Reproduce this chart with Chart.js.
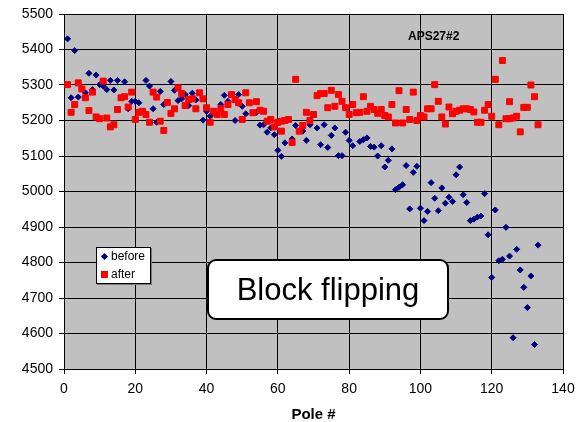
<!DOCTYPE html>
<html>
<head>
<meta charset="utf-8">
<script src="https://cdn.jsdelivr.net/npm/chart.js@4/dist/chart.umd.min.js"></script>
<style>
  body { margin: 0; background: #fff; }
  #wrap { position: relative; width: 576px; height: 422px; font-family: "Liberation Sans", Arial, sans-serif; }
  #chart { position: absolute; left: 0; top: 0; }
  .note { position: absolute; color: #000; white-space: nowrap; }
  #legend { left: 96px; top: 247px; width: 53px; height: 35px; background: #fff; border: 1px solid #000; box-shadow: 1px 1px 0 #7a7a7a; font-size: 12px; }
  #legend .row { position: absolute; left: 14px; line-height: 14px; }
  #legend .mark { position: absolute; }
  #flip { left: 207px; top: 259px; width: 238px; height: 57px; background: #fff; border: 2px solid #000; border-radius: 9px; font-size: 31px; line-height: 57px; text-align: center; }
  #tag { left: 408px; top: 29px; font-size: 12px; font-weight: bold; }
</style>
</head>
<body>
<div id="wrap">
  <canvas id="chart" width="576" height="422"></canvas>
  <div class="note" id="tag">APS27#2</div>
  <div class="note" id="legend">
    <div class="mark" style="left:5px;top:6px;width:5px;height:5px;background:#000080;transform:rotate(45deg);"></div>
    <div class="row" style="top:1px;">before</div>
    <div class="mark" style="left:4px;top:23px;width:7px;height:7px;background:#ff0000;"></div>
    <div class="row" style="top:19px;">after</div>
  </div>
  <div class="note" id="flip">Block flipping</div>
</div>
<script>
// pole numbers and values
const beforePole = [1, 2, 3, 4, 6, 7, 8, 9, 10, 11, 12, 13, 14, 15, 17, 18, 19, 20, 21, 23,
  24, 25, 26, 27, 28, 30, 31, 32, 33, 34, 35, 36, 37, 39, 40, 41, 42, 44, 45, 46,
  48, 49, 50, 51, 54, 55, 56, 57, 58, 59, 60, 61, 62, 64, 65, 67, 68, 69, 71, 72,
  73, 74, 75, 76, 77, 78, 79, 80, 81, 82, 83, 84, 85, 86, 87, 88, 89, 90, 91, 92,
  93, 94, 95, 96, 97, 98, 99, 100, 101, 102, 103, 104, 105, 106, 107, 108, 109, 110, 111, 112,
  113, 114, 115, 116, 117, 118, 119, 120, 121, 122, 123, 124, 125, 126, 127, 128, 129, 130, 131, 132, 133];
const beforeValue = [5430, 5264, 5397, 5266, 5278, 5333, 5287, 5328, 5301, 5297, 5287, 5313, 5286, 5313, 5309, 5233, 5254, 5254, 5250, 5313,
  5297, 5233, 5195, 5282, 5245, 5310, 5285, 5256, 5261, 5273, 5242, 5277, 5258, 5201, 5226, 5212, 5223, 5245, 5271, 5254,
  5200, 5273, 5240, 5219, 5223, 5187, 5188, 5167, 5179, 5160, 5116, 5099, 5137, 5148, 5186, 5170, 5144, 5188, 5179, 5132,
  5188, 5124, 5158, 5179, 5101, 5101, 5167, 5144, 5129, 5221, 5141, 5146, 5151, 5127, 5125, 5100, 5129, 5069, 5088, 5120,
  5005, 5012, 5019, 5073, 4951, 5054, 5071, 4953, 4918, 4944, 5025, 4981, 4946, 5010, 4967, 4984, 4972, 5047, 5069, 4991,
  4969, 4918, 4922, 4928, 4931, 4994, 4878, 4758, 4948, 4805, 4809, 4899, 4818, 4588, 4837, 4779, 4730, 4673, 4762, 4569, 4849];

const afterPole = [1, 2, 3, 4, 5, 6, 7, 8, 9, 10, 11, 12, 13, 14, 15, 16, 17, 18, 19, 20,
  21, 22, 23, 24, 25, 26, 27, 28, 29, 30, 31, 32, 33, 34, 35, 36, 37, 38, 39, 40,
  41, 42, 43, 44, 45, 46, 47, 48, 49, 50, 51, 52, 53, 54, 55, 56, 57, 58, 59, 60,
  61, 61, 62, 63, 64, 65, 66, 67, 68, 69, 70, 71, 72, 73, 74, 75, 76, 77, 78, 79,
  80, 81, 82, 83, 84, 85, 86, 87, 88, 89, 90, 91, 92, 93, 94, 95, 96, 97, 98, 99,
  100, 101, 102, 103, 104, 105, 106, 107, 108, 109, 110, 111, 112, 113, 114, 115, 116, 117, 118, 119,
  120, 121, 122, 123, 124, 125, 125, 126, 127, 128, 129, 130, 131, 132, 133];
const afterValue = [5301, 5223, 5245, 5306, 5289, 5264, 5228, 5280, 5210, 5205, 5311, 5207, 5182, 5188, 5231, 5264, 5267, 5238, 5280, 5203,
  5223, 5226, 5217, 5195, 5280, 5266, 5198, 5172, 5251, 5220, 5233, 5292, 5276, 5242, 5259, 5261, 5233, 5278, 5261, 5236,
  5195, 5226, 5217, 5233, 5217, 5245, 5273, 5259, 5250, 5203, 5278, 5250, 5222, 5253, 5229, 5226, 5198, 5203, 5182, 5195,
  5170, 5198, 5200, 5203, 5138, 5316, 5170, 5186, 5223, 5200, 5217, 5270, 5276, 5276, 5236, 5285, 5240, 5273, 5254, 5236,
  5217, 5245, 5222, 5223, 5267, 5226, 5240, 5231, 5220, 5231, 5214, 5210, 5245, 5193, 5284, 5193, 5231, 5203, 5280, 5200,
  5214, 5210, 5233, 5233, 5301, 5254, 5210, 5190, 5238, 5219, 5226, 5229, 5233, 5233, 5231, 5224, 5195, 5195, 5229, 5245,
  5212, 5316, 5188, 5369, 5205, 5205, 5253, 5207, 5212, 5168, 5237, 5237, 5300, 5267, 5188];

const toPoints = (xs, ys) => xs.map((x, i) => ({ x: x, y: ys[i] }));

// grey plot area like the old spreadsheet chart
const plotBackground = {
  id: 'plotBackground',
  beforeDraw(chart) {
    const { ctx, chartArea: { left, top, width, height } } = chart;
    ctx.save();
    ctx.fillStyle = '#c0c0c0';
    ctx.fillRect(left, top, width, height);
    ctx.restore();
  }
};

const tickFont = { family: '"Liberation Sans", Arial, sans-serif', size: 14 };

new Chart(document.getElementById('chart'), {
  type: 'scatter',
  data: {
    datasets: [
      {
        label: 'before',
        data: toPoints(beforePole, beforeValue),
        pointStyle: 'rectRot',
        pointRadius: 3,
        pointBackgroundColor: '#000080',
        pointBorderColor: '#000080',
        pointBorderWidth: 1,
        order: 2
      },
      {
        label: 'after',
        data: toPoints(afterPole, afterValue),
        pointStyle: 'rect',
        pointRadius: 4.2,
        pointBackgroundColor: '#ff0000',
        pointBorderColor: '#ff0000',
        pointBorderWidth: 1,
        order: 1
      }
    ]
  },
  options: {
    responsive: false,
    animation: false,
    layout: { padding: { left: 0, top: 14, right: 13, bottom: 0 } },
    plugins: {
      legend: { display: false },
      tooltip: { enabled: false }
    },
    scales: {
      x: {
        type: 'linear',
        min: 0,
        max: 140,
        border: { color: '#000', width: 1 },
        grid: { color: '#000', lineWidth: 1, tickLength: 5, tickColor: '#000' },
        ticks: { stepSize: 20, color: '#000', font: tickFont, padding: 7, maxRotation: 0 },
        title: {
          display: true,
          text: 'Pole #',
          color: '#000',
          font: { family: '"Liberation Sans", Arial, sans-serif', size: 15, weight: 'bold', lineHeight: 1 },
          padding: { top: 0, bottom: 0 }
        },
        afterFit(scale) {
          scale.height = 53;
          scale.paddingLeft = 0;
          scale.paddingRight = 0;
        }
      },
      y: {
        type: 'linear',
        min: 4500,
        max: 5500,
        border: { color: '#000', width: 1 },
        grid: { color: '#000', lineWidth: 1, tickLength: 5, tickColor: '#000' },
        ticks: { stepSize: 100, color: '#000', font: tickFont, padding: 6, callback: (v) => String(v) },
        afterFit(scale) {
          scale.width = 64;
          scale.paddingTop = 0;
          scale.paddingBottom = 0;
        }
      }
    }
  },
  plugins: [plotBackground]
});
</script>
</body>
</html>
